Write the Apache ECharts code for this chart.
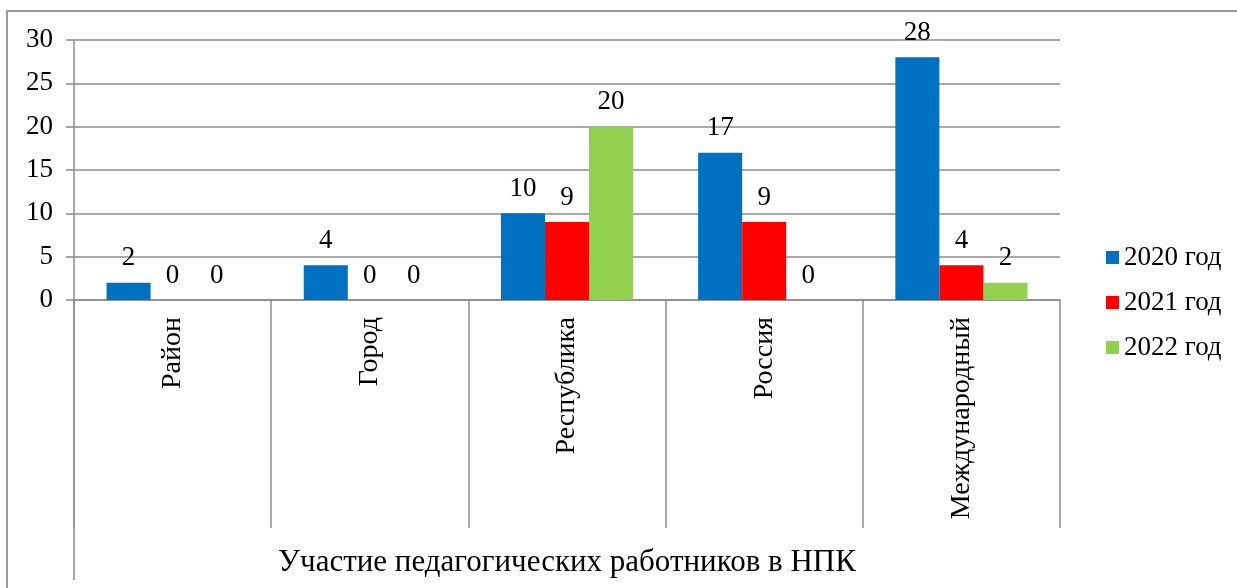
<!DOCTYPE html>
<html>
<head>
<meta charset="utf-8">
<script src="https://cdn.jsdelivr.net/npm/echarts@6/dist/echarts.min.js"></script>
<style>
html, body { margin: 0; padding: 0; background: #fff; }
#chart { width: 1237px; height: 588px; }
</style>
</head>
<body>
<div id="chart"></div>
<script>
var categories = ['Район', 'Город', 'Республика', 'Россия', 'Международный'];
var years = ['2020 год', '2021 год', '2022 год'];
var values2020 = [2, 4, 10, 17, 28];
var values2021 = [0, 0, 9, 9, 4];
var values2022 = [0, 0, 20, 0, 2];
var axisTitle = 'Участие педагогических работников в НПК';
var colors = ['#0070C0', '#FF0000', '#92D050'];

var serif = 'Liberation Serif';
var fs = 27;
var gray = '#8c8c8c';

var myChart = echarts.init(document.getElementById('chart'));

function bar(name, data, color) {
    return {
        name: name,
        type: 'bar',
        data: data,
        barGap: 0,
        barCategoryGap: '33%',
        itemStyle: { color: color },
        label: {
            show: true,
            position: 'top',
            distance: 11,
            color: '#000',
            fontFamily: serif,
            fontSize: fs
        }
    };
}

// animation stays on: later frames are drawn once the serif face is ready
var option = {
    animationDuration: 500,
    color: colors,
    grid: { left: 74, right: 177, top: 40, bottom: 288 },
    legend: {
        orient: 'vertical',
        left: 1101,
        top: 239,
        itemWidth: 13,
        itemHeight: 13,
        itemGap: 18,
        icon: 'rect',
        data: years,
        textStyle: { fontFamily: serif, fontSize: fs, color: '#000' }
    },
    xAxis: {
        type: 'category',
        data: categories,
        name: axisTitle,
        nameLocation: 'middle',
        nameGap: 247,
        nameTextStyle: { fontFamily: serif, fontSize: 31, color: '#000' },
        axisLine: { lineStyle: { color: gray, width: 1.5 } },
        axisTick: { show: true, interval: 0, length: 228, lineStyle: { color: gray, width: 1.5 } },
        axisLabel: {
            rotate: 90,
            interval: 0,
            margin: 17,
            fontFamily: serif,
            fontSize: 28,
            color: '#000'
        }
    },
    yAxis: {
        type: 'value',
        min: 0,
        max: 30,
        interval: 5,
        axisLine: { show: true, lineStyle: { color: gray, width: 1.5 } },
        axisTick: { show: true, length: 8, lineStyle: { color: gray, width: 1.5 } },
        splitLine: { lineStyle: { color: gray, width: 1.5 } },
        axisLabel: { margin: 21, fontFamily: serif, fontSize: fs, color: '#000' }
    },
    graphic: [
        {
            type: 'rect',
            shape: { x: 7, y: 11, width: 1400, height: 800 },
            style: { fill: null, stroke: '#999', lineWidth: 2 },
            silent: true
        },
        {
            type: 'line',
            shape: { x1: 74, y1: 300, x2: 74, y2: 580 },
            style: { stroke: gray, lineWidth: 1.5 },
            silent: true
        }
    ],
    series: [
        bar(years[0], values2020, colors[0]),
        bar(years[1], values2021, colors[1]),
        bar(years[2], values2022, colors[2])
    ]
};
myChart.setOption(option);
</script>
</body>
</html>
